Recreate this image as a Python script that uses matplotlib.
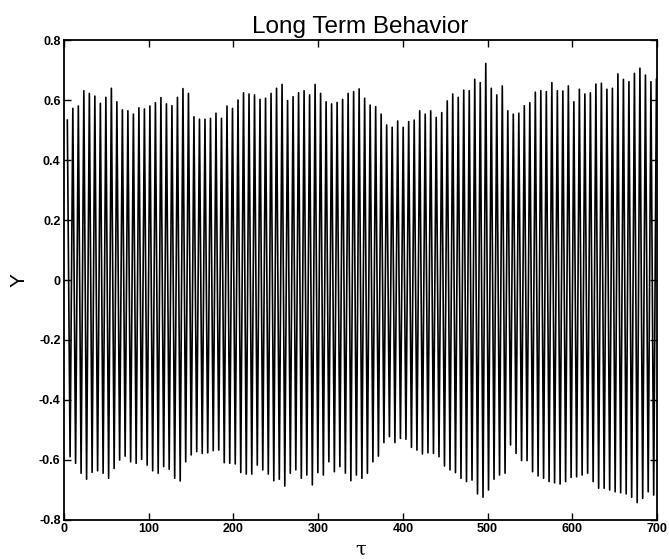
import numpy as np
import matplotlib
matplotlib.use("Agg")
import matplotlib.pyplot as plt

plt.rcParams["font.family"] = ["Liberation Sans", "DejaVu Sans"]
plt.rcParams["axes.unicode_minus"] = False

# Oscillation: successive crest and trough heights of Y(tau)
tau_first_peak = 3.9
period = 6.5

peaks = [
    0.533, 0.572, 0.580, 0.631, 0.622, 0.613, 0.589, 0.609, 0.639, 0.594,
    0.567, 0.564, 0.553, 0.574, 0.570, 0.580, 0.591, 0.608, 0.587, 0.581,
    0.609, 0.638, 0.622, 0.544, 0.536, 0.536, 0.539, 0.556,
    0.539, 0.580, 0.572, 0.600, 0.624, 0.620, 0.617, 0.602, 0.606, 0.622,
    0.639, 0.652, 0.598, 0.611, 0.624, 0.631, 0.617, 0.652, 0.622, 0.594,
    0.587, 0.592, 0.602, 0.622, 0.628, 0.637, 0.606, 0.583,
    0.578, 0.553, 0.517, 0.509, 0.530, 0.509, 0.528, 0.533, 0.564, 0.553,
    0.564, 0.542, 0.558, 0.597, 0.620, 0.609, 0.633, 0.631, 0.669, 0.658,
    0.722, 0.639, 0.617, 0.647, 0.564, 0.553, 0.556, 0.581, 0.591,
    0.626, 0.631, 0.628, 0.658, 0.631, 0.630, 0.647, 0.594, 0.636, 0.620,
    0.624, 0.653, 0.656, 0.636, 0.639, 0.687, 0.669, 0.661, 0.689, 0.706,
    0.683, 0.661, 0.669,
]

troughs = [
    -0.589, -0.611, -0.644, -0.664, -0.641, -0.636, -0.644, -0.661, -0.628, -0.600,
    -0.587, -0.606, -0.611, -0.598, -0.617, -0.636, -0.644, -0.622, -0.631, -0.661,
    -0.670, -0.606, -0.583, -0.572, -0.578, -0.576, -0.569, -0.567,
    -0.609, -0.611, -0.613, -0.642, -0.647, -0.647, -0.617, -0.633, -0.647, -0.669,
    -0.664, -0.687, -0.644, -0.633, -0.661, -0.650, -0.683, -0.642, -0.650, -0.606,
    -0.639, -0.622, -0.644, -0.669, -0.650, -0.661, -0.644,
    -0.606, -0.587, -0.542, -0.522, -0.542, -0.528, -0.531, -0.558, -0.567, -0.580,
    -0.576, -0.578, -0.589, -0.620, -0.633, -0.642, -0.661, -0.672, -0.667, -0.713,
    -0.724, -0.700, -0.664, -0.650, -0.644, -0.550, -0.578, -0.602, -0.602,
    -0.639, -0.653, -0.661, -0.672, -0.676, -0.680, -0.672, -0.658, -0.656, -0.650,
    -0.644, -0.672, -0.694, -0.694, -0.700, -0.706, -0.709, -0.713, -0.724, -0.742,
    -0.728, -0.706, -0.717,
]

xticks = [0, 100, 200, 300, 400, 500, 600, 700]
yticks = [-0.8, -0.6, -0.4, -0.2, 0, 0.2, 0.4, 0.6, 0.8]
ytick_labels = ["-0.8", "-0.6", "-0.4", "-0.2", "0", "0.2", "0.4", "0.6", "0.8"]

# interleave crests and troughs into one signal
n = len(peaks) + len(troughs)
y = np.empty(n)
y[0::2] = peaks
y[1::2] = troughs
tau = tau_first_peak + 0.5 * period * np.arange(n)

fig = plt.figure(figsize=(6.69, 5.59), dpi=100)
ax = fig.add_axes([0.0957, 0.0698, 0.8863, 0.8586])
ax.plot(tau, y, color="black", linewidth=1.2)

ax.set_xlim(0, 700)
ax.set_ylim(-0.8, 0.8)
ax.set_xticks(xticks)
ax.set_xticklabels([str(t) for t in xticks], fontweight="bold")
ax.set_yticks(yticks)
ax.set_yticklabels(ytick_labels, fontweight="bold")
ax.tick_params(direction="in", length=5, width=1.0, top=True, right=True,
               labelsize=9, pad=2.5)
for s in ax.spines.values():
    s.set_linewidth(1.3)

ax.set_title("Long Term Behavior", fontsize=17.5, pad=5)
ax.set_xlabel("τ", fontsize=14, family=["DejaVu Serif"], labelpad=4)
ax.set_ylabel("Y", fontsize=15)
ax.yaxis.set_label_coords(-0.06, 0.5)

fig.savefig("out.png", dpi=100)
